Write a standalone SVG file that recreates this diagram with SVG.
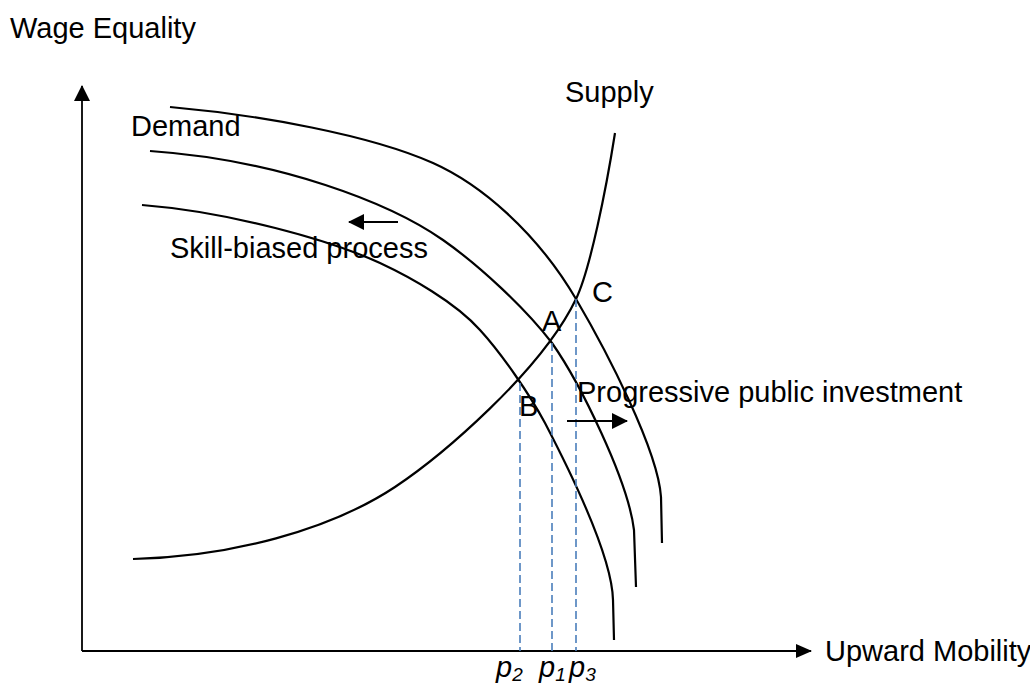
<svg xmlns="http://www.w3.org/2000/svg" width="1030" height="684" viewBox="0 0 1030 684">
  <style>
    .lbl { font-family: "Liberation Sans", Arial, sans-serif; font-size: 29px; fill: #000; }
    .it { font-style: italic; }
    .sub { font-size: 19px; }
    .curve { fill: none; stroke: #000; stroke-width: 2.2; }
    .axis { fill: none; stroke: #000; stroke-width: 1.8; }
    .guide { fill: none; stroke: #4a7ebb; stroke-width: 1.6; stroke-dasharray: 8 4; }
    .shift { fill: none; stroke: #000; stroke-width: 2; }
  </style>
  <defs>
    <marker id="head" viewBox="0 0 16 16" refX="15" refY="8" markerWidth="16" markerHeight="16" markerUnits="userSpaceOnUse" orient="auto">
      <path d="M0,0 L16,8 L0,16 Z" fill="#000"/>
    </marker>
    <marker id="headSmall" viewBox="0 0 16 14" refX="15" refY="7" markerWidth="16" markerHeight="14" markerUnits="userSpaceOnUse" orient="auto">
      <path d="M0,0 L16,7 L0,14 Z" fill="#000"/>
    </marker>
  </defs>
  <rect width="1030" height="684" fill="#fff"/>

  <!-- axes -->
  <g id="axes">
    <line class="axis" x1="82" y1="651" x2="82" y2="86" marker-end="url(#head)"/>
    <line class="axis" x1="82" y1="651" x2="811" y2="651" marker-end="url(#headSmall)"/>
    <text class="lbl" x="10" y="38">Wage Equality</text>
    <text class="lbl" x="825" y="661">Upward Mobility</text>
  </g>

  <!-- demand and supply curves -->
  <g id="connectors">
    <path id="demand-outer" class="curve" d="M170,107 C260,115 370,135 433,163 C480,184 536,231 576,299 C606,350 658,450 661,497 L662,543"/>
    <path id="demand-middle" class="curve" d="M150,151 C280,160 390,203 443,240 C480,266 525,308 552,343 C580,383 628,480 634,530 L636,587"/>
    <path id="demand-inner" class="curve" d="M142,205 C230,212 330,240 380,263 C410,277 455,302 480,330 C502,354 530,395 545,423 C570,471 612,555 613,600 L614,640"/>
    <path id="supply" class="curve" d="M133,559 C230,557 330,530 395,487 C440,457 541,372 576,299 C590,270 606,190 615,133"/>

    <!-- equilibrium guides -->
    <line class="guide" x1="520" y1="383" x2="520" y2="651"/>
    <line class="guide" x1="552" y1="343" x2="552" y2="651"/>
    <line class="guide" x1="576" y1="299" x2="576" y2="651"/>

    <!-- shift arrows -->
    <line class="shift" x1="398" y1="222" x2="349" y2="222" marker-end="url(#head)"/>
    <line class="shift" x1="567" y1="421" x2="627" y2="421" marker-end="url(#head)"/>
  </g>

  <g id="label-supply"><text class="lbl" x="565" y="102">Supply</text></g>
  <g id="label-demand"><text class="lbl" x="131" y="136">Demand</text></g>
  <g id="label-skill"><text class="lbl" x="170" y="258">Skill-biased process</text></g>
  <g id="label-progressive"><text class="lbl" x="577" y="402">Progressive public investment</text></g>
  <g id="point-C"><text class="lbl" x="592" y="302">C</text></g>
  <g id="point-A"><text class="lbl" x="542" y="331">A</text></g>
  <g id="point-B"><text class="lbl" x="519" y="416">B</text></g>

  <g id="ticks">
    <text class="lbl it" x="496" y="677">p<tspan class="sub" dy="4">2</tspan></text>
    <text class="lbl it" x="539" y="677">p<tspan class="sub" dy="4">1</tspan></text>
    <text class="lbl it" x="569" y="677">p<tspan class="sub" dy="4">3</tspan></text>
  </g>
</svg>
